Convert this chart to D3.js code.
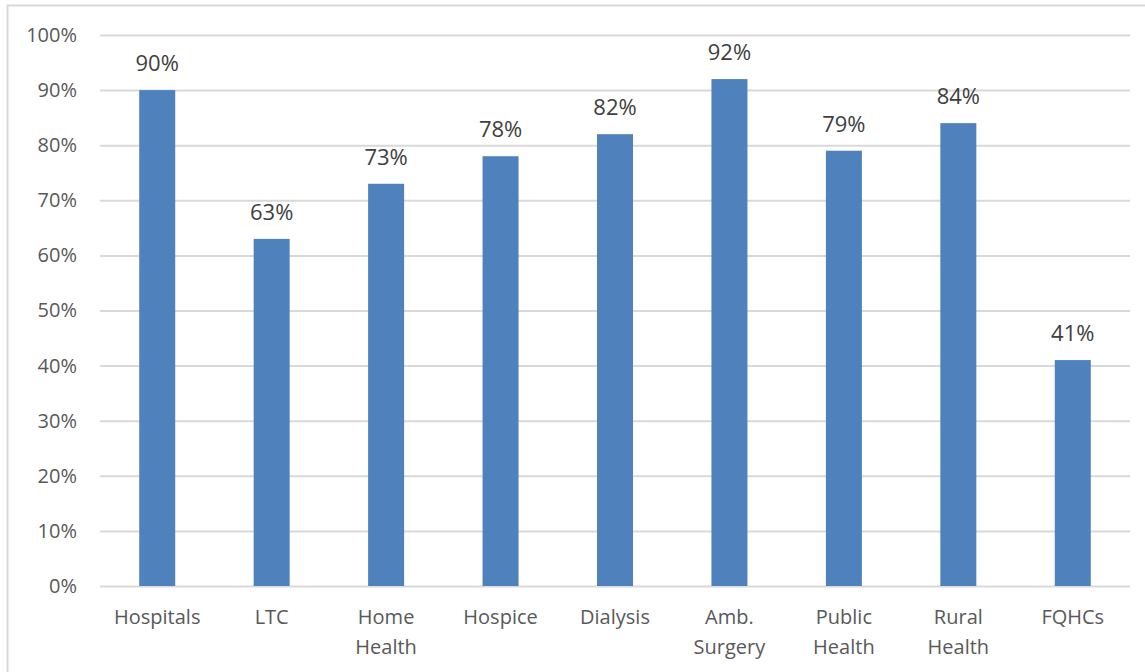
<!DOCTYPE html>
<html>
<head>
<meta charset="utf-8">
<script src="https://cdn.jsdelivr.net/npm/d3@7"></script>
<style>
  html, body { margin: 0; padding: 0; background: #fff; }
  svg { display: block; }
</style>
</head>
<body>
<svg id="chart" width="1145" height="672"></svg>
<script>
// Share of facilities by provider type
const categories = ["Hospitals", "LTC", "Home Health", "Hospice", "Dialysis", "Amb. Surgery", "Public Health", "Rural Health", "FQHCs"];
const values = [90, 63, 73, 78, 82, 92, 79, 84, 41];
const yTicks = [0, 10, 20, 30, 40, 50, 60, 70, 80, 90, 100];

const svg = d3.select("#chart");
const font = "'Open Sans', sans-serif";
const textColor = "#595959";
const gridColor = "#d9d9d9";
const barColor = "#4f81bd";

const plot = { left: 100, right: 1130, top: 35, bottom: 586 };

// outer frame
svg.append("rect")
  .attr("x", 7.5).attr("y", 5.5)
  .attr("width", 1150).attr("height", 700)
  .attr("fill", "none").attr("stroke", gridColor).attr("stroke-width", 2);

const x = d3.scaleBand().domain(categories).range([plot.left, plot.right]).padding(0);
const y = d3.scaleLinear().domain([0, 100]).range([plot.bottom, plot.top]);
const barWidth = 36;

// gridlines and y axis labels
const yAxis = d3.axisLeft(y).tickValues(yTicks).tickSize(-(plot.right - plot.left)).tickPadding(23)
  .tickFormat(d => d + "%");
const gy = svg.append("g").attr("transform", `translate(${plot.left},0)`).call(yAxis);
gy.select(".domain").remove();
gy.selectAll(".tick line").attr("stroke", gridColor).attr("stroke-width", 2);
gy.selectAll(".tick text").attr("fill", textColor).style("font-family", font).style("font-size", "20px");

// bars
svg.append("g").selectAll("rect").data(values).join("rect")
  .attr("x", (d, i) => x(categories[i]) + x.bandwidth() / 2 - barWidth / 2)
  .attr("y", d => y(d))
  .attr("width", barWidth)
  .attr("height", d => y(0) - y(d))
  .attr("fill", barColor);

// value labels
svg.append("g").selectAll("text").data(values).join("text")
  .attr("x", (d, i) => x(categories[i]) + x.bandwidth() / 2)
  .attr("y", d => y(d) - 19)
  .attr("text-anchor", "middle")
  .attr("fill", "#404040")
  .style("font-family", font).style("font-size", "22px")
  .text(d => d + "%");

// category labels (wrapped on spaces)
const xl = svg.append("g").selectAll("text").data(categories).join("text")
  .attr("x", d => x(d) + x.bandwidth() / 2)
  .attr("y", 624)
  .attr("text-anchor", "middle")
  .attr("fill", textColor)
  .style("font-family", font).style("font-size", "20px");
xl.each(function(d) {
  const words = d.split(" ");
  const t = d3.select(this);
  words.forEach((w, i) => {
    t.append("tspan").attr("x", t.attr("x")).attr("dy", i === 0 ? 0 : 30).text(w);
  });
});
</script>
</body>
</html>
